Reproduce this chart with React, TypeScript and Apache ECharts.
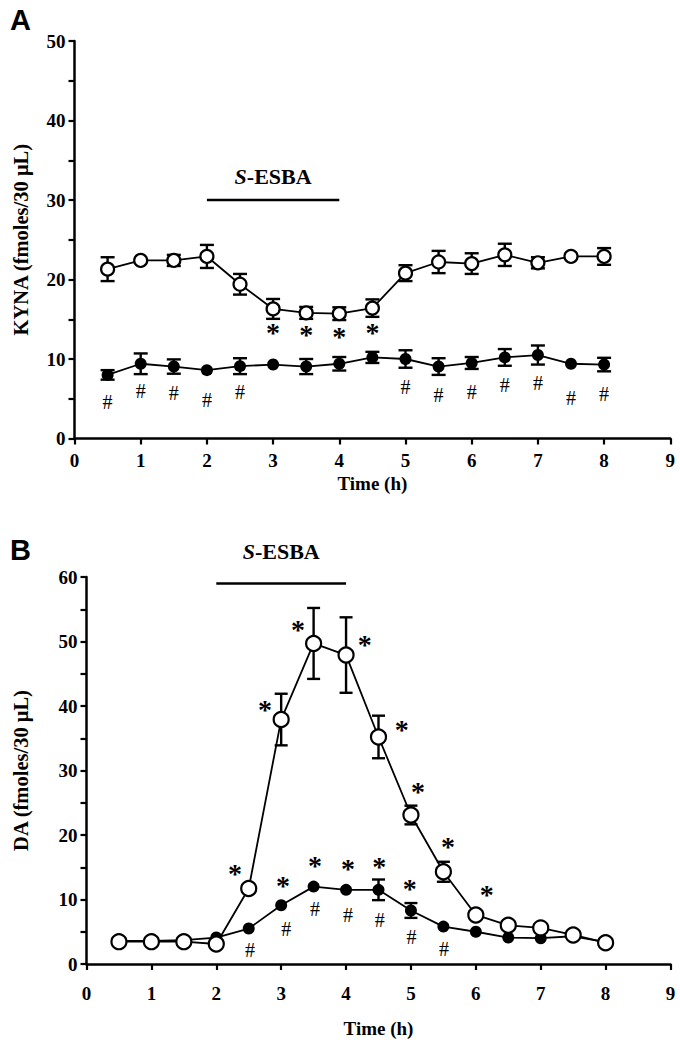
import React, { useEffect, useRef } from "react";
import * as echarts from "echarts";

// ---------- data ----------
const hours = [0.5, 1, 1.5, 2, 2.5, 3, 3.5, 4, 4.5, 5, 5.5, 6, 6.5, 7, 7.5, 8];

// Panel A: KYNA
const kynaOpen = [21.3, 22.4, 22.4, 22.9, 19.4, 16.3, 15.8, 15.7, 16.4, 20.8, 22.2, 22.0, 23.1, 22.1, 22.9, 22.9];
const kynaOpenErr = [1.5, 0, 0.7, 1.45, 1.3, 1.25, 0.75, 0.8, 1.1, 1.0, 1.4, 1.3, 1.4, 0.7, 0, 1.05];
const kynaFilled = [8.0, 9.4, 9.05, 8.6, 9.1, 9.3, 9.05, 9.4, 10.2, 10.0, 9.05, 9.5, 10.2, 10.5, 9.4, 9.3];
const kynaFilledErr = [0.6, 1.3, 0.9, 0, 1.0, 0, 0.95, 0.85, 0.7, 1.1, 1.05, 0.75, 1.05, 1.2, 0, 0.85];

// Panel B: DA
const daOpen = [3.46, 3.46, 3.46, 3.1, 11.7, 37.9, 49.7, 47.9, 35.2, 23.1, 14.3, 7.6, 6.0, 5.6, 4.5, 3.3];
const daOpenErr = [0, 0, 0, 0, 0, 4.0, 5.5, 5.85, 3.3, 1.45, 1.55, 0, 0, 0, 0, 0];
const daFilled = [3.6, 3.6, 3.7, 4.1, 5.5, 9.1, 12.0, 11.5, 11.5, 8.3, 5.8, 5.0, 4.1, 4.0, 4.3, 3.4];
const daFilledErr = [0, 0, 0, 0, 0, 0, 0, 0, 1.6, 1.15, 0, 0, 0, 0, 0, 0];

// treatment period
const esbaPeriod = [2, 4];
const esbaLevelA = 30;
const esbaLevelB = 59;
const esbaTextA = [3, 33];
const esbaTextB = [3, 63.9];

// significance marks (data units)
const kynaStars = [[3, 13.3], [3.5, 13.05], [4, 12.8], [4.5, 13.3]];
const kynaHashes = [[0.5, 4.6], [1, 6.0], [1.5, 5.7], [2, 4.85], [2.5, 5.9], [5, 6.5], [5.5, 5.5], [6, 5.9], [6.5, 6.75], [7, 6.95], [7.5, 5.1], [8, 5.6]];
const daStars = [[2.29, 14.1], [2.75, 39.4], [3.26, 51.8], [4.29, 49.5], [4.86, 36.3], [5.11, 26.7], [5.57, 18.2], [6.17, 10.7],
  [3.03, 12.2], [3.52, 15.3], [4.03, 14.8], [4.51, 15.1], [4.98, 11.7]];
const daHashes = [[2.52, 2.2], [3.08, 5.5], [3.52, 8.6], [4.03, 7.6], [4.52, 6.8], [5.01, 4.2], [5.51, 2.4]];

const xTicksMax = 9;

// ---------- helpers ----------
const SERIF = '"Liberation Serif", "Times New Roman", serif';
const SANS = '"Liberation Sans", Arial, sans-serif';

function errSeries(gi: number, ys: number[], errs: number[], capW: number, z: number) {
  return {
    type: "custom",
    xAxisIndex: gi,
    yAxisIndex: gi,
    z,
    silent: true,
    encode: { x: 0, y: 1 },
    data: hours.map((h, i) => [h, ys[i], errs[i]]),
    renderItem: (params: any, api: any) => {
      const x = api.value(0), y = api.value(1), e = api.value(2);
      if (!e) return { type: "group", children: [] };
      const t = api.coord([x, y + e]);
      const b = api.coord([x, y - e]);
      const style = { stroke: "#000", lineWidth: 2.4 };
      return {
        type: "group",
        children: [
          { type: "line", shape: { x1: t[0], y1: t[1], x2: b[0], y2: b[1] }, style },
          { type: "line", shape: { x1: t[0] - capW / 2, y1: t[1], x2: t[0] + capW / 2, y2: t[1] }, style },
          { type: "line", shape: { x1: b[0] - capW / 2, y1: b[1], x2: b[0] + capW / 2, y2: b[1] }, style },
        ],
      };
    },
  };
}

function lineSeries(gi: number, ys: number[], open: boolean, size: number, z: number) {
  return {
    type: "line",
    xAxisIndex: gi,
    yAxisIndex: gi,
    z,
    data: hours.map((h, i) => [h, ys[i]]),
    symbol: "circle",
    symbolSize: size,
    showAllSymbol: true,
    lineStyle: { color: "#000", width: 1.8 },
    itemStyle: open
      ? { color: "#fff", borderColor: "#000", borderWidth: 2.2, opacity: 1 }
      : { color: "#000", borderColor: "#000", borderWidth: 0, opacity: 1 },
    emphasis: { disabled: true },
  };
}

function markSeries(gi: number, pts: number[][], text: string, font: any, z: number) {
  return {
    type: "scatter",
    xAxisIndex: gi,
    yAxisIndex: gi,
    z,
    silent: true,
    clip: false,
    symbol: "circle",
    symbolSize: 1,
    itemStyle: { color: "rgba(0,0,0,0)", opacity: 1 },
    data: pts.map((p) => [p[0], p[1]]),
    label: {
      show: true,
      position: "inside",
      formatter: () => text,
      color: "#000",
      opacity: 1,
      textBorderWidth: 0,
      fontFamily: SERIF,
      ...font,
    },
  };
}

function esbaSeries(gi: number, level: number, textPos: number[]) {
  return [
    {
      type: "line",
      xAxisIndex: gi,
      yAxisIndex: gi,
      z: 1,
      silent: true,
      symbol: "none",
      data: esbaPeriod.map((h) => [h, level]),
      lineStyle: { color: "#000", width: 2.4 },
    },
    {
      type: "scatter",
      xAxisIndex: gi,
      yAxisIndex: gi,
      z: 1,
      silent: true,
      clip: false,
      symbolSize: 1,
      itemStyle: { color: "rgba(0,0,0,0)", opacity: 1 },
      data: [textPos],
      label: {
        show: true,
        position: "inside",
        formatter: "{i|S}{b|-ESBA}",
        color: "#000",
        opacity: 1,
        textBorderWidth: 0,
        rich: {
          i: { fontFamily: SERIF, fontWeight: "bold", fontStyle: "italic", fontSize: 22, color: "#000" },
          b: { fontFamily: SERIF, fontWeight: "bold", fontSize: 22, color: "#000" },
        },
      },
    },
  ];
}

const axisText = { color: "#000", fontFamily: SERIF, fontWeight: "bold", fontSize: 19 };
const yTitleText = { color: "#000", fontFamily: SERIF, fontWeight: "bold", fontSize: 20.5 };

function xAxis(gi: number, nameGap: number, margin: number) {
  return {
    gridIndex: gi,
    type: "value",
    min: 0,
    max: xTicksMax,
    interval: 1,
    axisLine: { show: true, onZero: false, lineStyle: { color: "#000", width: 2.5 } },
    axisTick: { show: true, length: 6, lineStyle: { color: "#000", width: 2.2 } },
    axisLabel: { ...axisText, margin },
    splitLine: { show: false },
    name: "Time (h)",
    nameLocation: "middle",
    nameGap,
    nameTextStyle: { ...axisText },
  };
}

function yAxis(gi: number, max: number, name: string, nameGap: number) {
  return {
    gridIndex: gi,
    type: "value",
    min: 0,
    max,
    interval: 5,
    axisLine: { show: true, lineStyle: { color: "#000", width: 2.5 } },
    axisTick: { show: true, length: 6, lineStyle: { color: "#000", width: 2.2 } },
    axisLabel: { ...axisText, margin: 9, formatter: (v: number) => (v % 10 === 0 ? String(v) : "") },
    splitLine: { show: false },
    name,
    nameLocation: "middle",
    nameGap,
    nameRotate: 90,
    nameTextStyle: { ...yTitleText },
  };
}

export default function App() {
  const ref = useRef<HTMLDivElement>(null);
  useEffect(() => {
    if (!ref.current) return;
    const chart = echarts.init(ref.current, undefined, { renderer: "svg" });
    chart.setOption({
      animation: false,
      backgroundColor: "#fff",
      grid: [
        { left: 74.5, right: 9.7, top: 41, height: 397.5 },
        { left: 86.5, right: 9.5, top: 577, height: 387 },
      ],
      xAxis: [xAxis(0, 35, 12), xAxis(1, 55, 20)],
      yAxis: [
        yAxis(0, 50, "KYNA (fmoles/30 \u03bcL)", 43),
        yAxis(1, 60, "DA (fmoles/30 \u03bcL)", 55),
      ],
      graphic: [
        { type: "text", left: 10, top: 5, style: { text: "A", font: `bold 29px ${SANS}`, fill: "#000" } },
        { type: "text", left: 10, top: 535, style: { text: "B", font: `bold 29px ${SANS}`, fill: "#000" } },
      ],
      series: [
        // Panel A
        errSeries(0, kynaFilled, kynaFilledErr, 14, 2),
        lineSeries(0, kynaFilled, false, 12, 3),
        errSeries(0, kynaOpen, kynaOpenErr, 14, 4),
        lineSeries(0, kynaOpen, true, 13, 5),
        ...esbaSeries(0, esbaLevelA, esbaTextA),
        markSeries(0, kynaStars, "*", { fontSize: 28, fontWeight: "bold" }, 6),
        markSeries(0, kynaHashes, "#", { fontSize: 20, fontWeight: "normal" }, 6),
        // Panel B
        errSeries(1, daFilled, daFilledErr, 13, 2),
        lineSeries(1, daFilled, false, 12, 3),
        errSeries(1, daOpen, daOpenErr, 13, 4),
        lineSeries(1, daOpen, true, 15, 5),
        ...esbaSeries(1, esbaLevelB, esbaTextB),
        markSeries(1, daStars, "*", { fontSize: 28, fontWeight: "bold" }, 6),
        markSeries(1, daHashes, "#", { fontSize: 20, fontWeight: "normal" }, 6),
      ],
    });
    return () => chart.dispose();
  }, []);
  return (
    <div
      ref={ref}
      style={{ position: "absolute", left: 0, top: 0, width: 680, height: 1050, background: "#fff" }}
    />
  );
}
